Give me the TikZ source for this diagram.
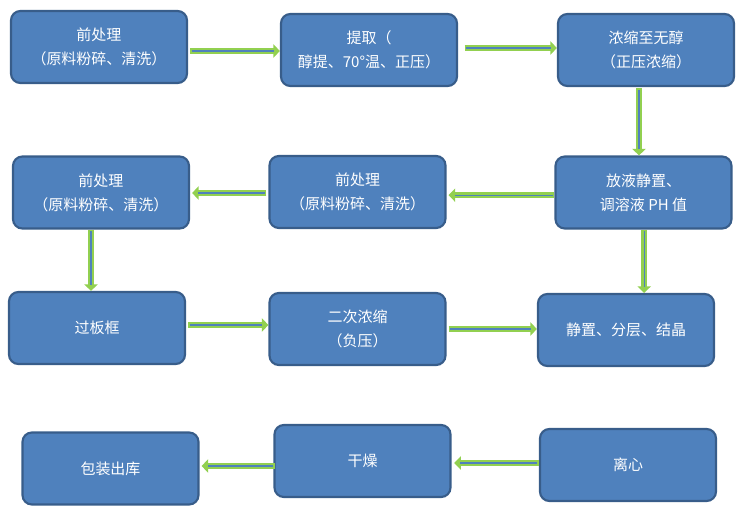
\documentclass[tikz,border=0pt]{standalone}
\usepackage{fontspec}
\setmainfont{Noto Sans CJK SC}
\usetikzlibrary{arrows.meta,calc}
\definecolor{boxfill}{HTML}{4F81BD}
\definecolor{boxline}{HTML}{385D8A}
\definecolor{agreen}{HTML}{92D050}
\definecolor{ablue}{HTML}{4F81BD}
\tikzset{
  box/.style={draw=boxline, line width=1.6pt, fill=boxfill, rounded corners=7pt,
    minimum width=132pt, minimum height=54pt, text=white, align=center,
    font=\fontsize{11.25pt}{18pt}\selectfont, inner sep=0pt},
  garrow/.style={draw=agreen, line width=4.4pt, -{Triangle[length=5pt,width=10pt]}},
  barrow/.style={draw=ablue, line width=1pt, shorten >=4.5pt, shorten <=1.2pt},
}
\newcommand{\flowarrow}[2]{\draw[garrow] #1 -- #2; \draw[barrow] #1 -- #2;}
\begin{document}
\begin{tikzpicture}[x=0.75pt,y=-0.75pt]
\useasboundingbox (0,0) rectangle (751,514);
% row 1
\node[box] (b1) at (99,47) {前处理\\（原料粉碎、清洗）};
\node[box] (b2) at (369,50) {提取（\\醇提、70°温、正压）};
\node[box] (b3) at (646,50) {浓缩至无醇\\（正压浓缩）};
% row 2
\node[box] (b4) at (643.5,192.5) {放液静置、\\调溶液 PH 值};
\node[box] (b5) at (357.5,192) {前处理\\（原料粉碎、清洗）};
\node[box] (b6) at (101,192.5) {前处理\\（原料粉碎、清洗）};
% row 3
\node[box] (b7) at (97,328) {过板框};
\node[box] (b8) at (357.5,329) {二次浓缩\\（负压）};
\node[box] (b9) at (626,330) {静置、分层、结晶};
% row 4
\node[box] (b10) at (110.5,468.5) {包装出库};
\node[box] (b11) at (362.5,461) {干燥};
\node[box] (b12) at (628,465) {离心};
% arrows
\flowarrow{([yshift=-3pt,xshift=1.5pt]b1.east)}{([yshift=-3pt]b1.east -| b2.west)}
\flowarrow{([yshift=1.5pt,xshift=5pt]b2.east)}{([yshift=1.5pt]b2.east -| b3.west)}
\flowarrow{([xshift=-5.25pt,yshift=-1pt]b3.south)}{([xshift=-5.25pt]b3.south |- b4.north)}
\flowarrow{([yshift=-2pt]b4.west)}{([yshift=-2pt,xshift=1.5pt]b4.west -| b5.east)}
\flowarrow{([yshift=-0.75pt,xshift=-1.5pt]b5.west)}{([yshift=-0.75pt,xshift=1.5pt]b5.west -| b6.east)}
\flowarrow{([xshift=-7.5pt]b6.south)}{([xshift=-7.5pt]b6.south |- b7.north)}
\flowarrow{([xshift=0.5pt]b4.south)}{([xshift=0.5pt]b4.south |- b9.north)}
\flowarrow{([yshift=2.25pt,xshift=1.5pt]b7.east)}{([yshift=2.25pt]b7.east -| b8.west)}
\flowarrow{([xshift=1.5pt]b8.east)}{(b8.east -| b9.west)}
\flowarrow{([yshift=1.5pt]b12.west)}{([yshift=1.5pt,xshift=2pt]b12.west -| b11.east)}
\flowarrow{([yshift=-3.75pt,xshift=1pt]b11.west)}{([yshift=-3.75pt,xshift=1.5pt]b11.west -| b10.east)}
\end{tikzpicture}
\end{document}
